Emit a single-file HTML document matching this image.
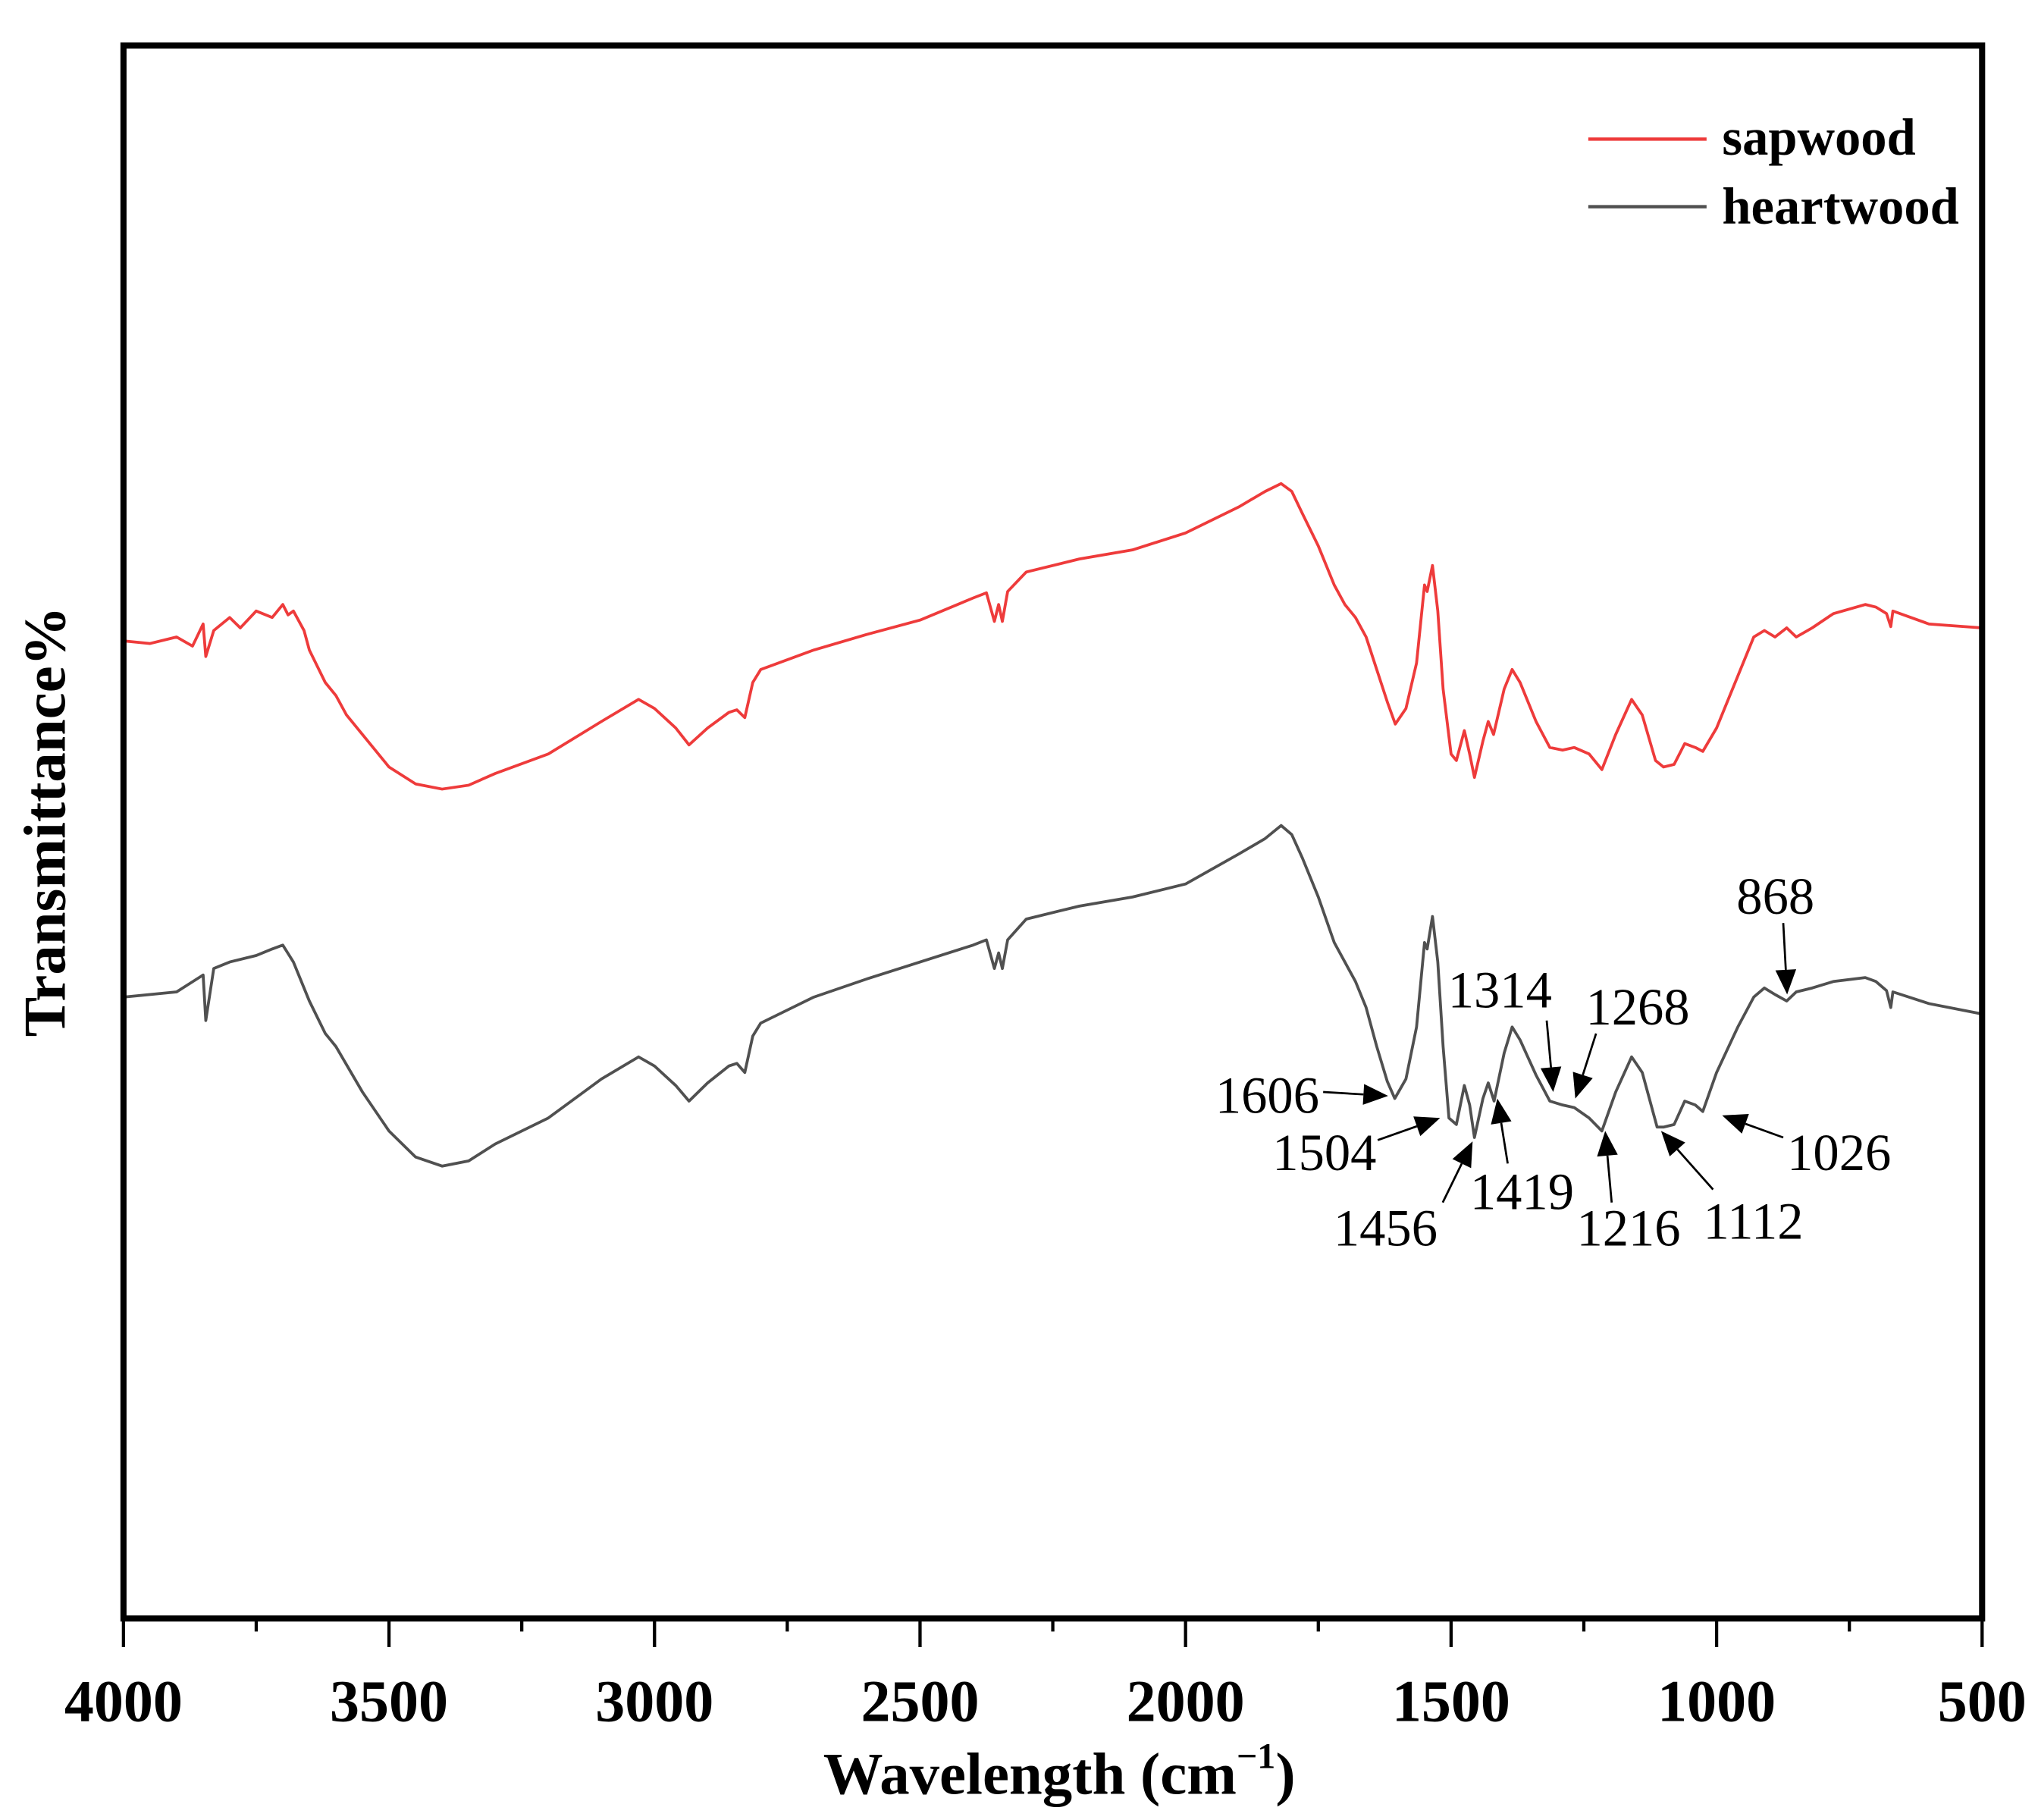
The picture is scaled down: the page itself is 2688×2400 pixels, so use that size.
<!DOCTYPE html>
<html><head><meta charset="utf-8"><style>
html,body{margin:0;padding:0;background:#fff}
svg{display:block}
text{font-family:"Liberation Serif",serif}
</style></head><body>
<svg id="chart" width="2688" height="2400" viewBox="0 0 1568 1400" xmlns="http://www.w3.org/2000/svg">
<g id="plot"></g>
<g id="axes"></g>
<g id="legend">
  <line x1="1222" y1="107" x2="1313" y2="107" stroke="#ee3b3b" stroke-width="2.5"/>
  <text x="1325" y="119" font-size="40" font-weight="bold">sapwood</text>
  <line x1="1222" y1="159" x2="1313" y2="159" stroke="#505050" stroke-width="2.5"/>
  <text x="1325" y="172" font-size="40" font-weight="bold">heartwood</text>
</g>
<text x="815" y="1380" font-size="46" font-weight="bold" text-anchor="middle">Wavelength (cm<tspan font-size="28" dy="-20">−1</tspan><tspan dy="20">)</tspan></text>
<text x="0" y="0" font-size="46" font-weight="bold" text-anchor="middle" transform="translate(50,632) rotate(-90)">Transmittance%</text>
<g id="annot"></g>
</svg>
<script>
const wnTicks=[4000,3500,3000,2500,2000,1500,1000,500];
const sapX=[4000,3950,3900,3870,3850,3845,3830,3800,3780,3750,3720,3700,3690,3680,3660,3650,3620,3600,3580,3550,3500,3450,3400,3350,3300,3200,3100,3030,3000,2960,2935,2900,2860,2845,2830,2815,2800,2700,2600,2500,2400,2375,2360,2352,2345,2335,2300,2200,2100,2000,1900,1850,1820,1800,1780,1750,1720,1700,1680,1660,1640,1620,1605,1585,1565,1550,1545,1535,1525,1515,1500,1490,1475,1465,1456,1440,1430,1420,1400,1385,1370,1340,1314,1290,1268,1240,1216,1190,1160,1140,1115,1100,1080,1060,1040,1026,1000,960,930,910,890,868,850,820,780,720,700,680,672,668,600,500];
const sapY=[752,750,755,748,765,740,760,770,762,775,770,780,772,775,760,745,720,710,695,680,655,642,638,641,650,665,690,707,700,685,672,685,697,699,693,720,730,745,757,768,785,789,767,780,767,790,805,815,822,835,855,867,873,867,850,825,795,780,770,755,730,705,688,700,735,795,790,810,775,715,665,660,683,665,647,675,690,680,715,730,720,690,670,668,670,665,653,680,707,695,660,655,657,673,670,667,685,725,755,760,755,762,755,762,773,780,778,773,763,775,765,762];
const heartX=[4000,3900,3850,3845,3830,3800,3750,3720,3700,3680,3650,3620,3600,3550,3500,3450,3400,3350,3300,3200,3100,3030,3000,2960,2935,2900,2860,2845,2830,2815,2800,2700,2600,2500,2400,2375,2360,2352,2345,2335,2300,2200,2100,2000,1900,1850,1820,1800,1780,1750,1720,1700,1680,1660,1640,1620,1606,1585,1565,1550,1545,1535,1525,1515,1504,1490,1475,1465,1456,1440,1430,1419,1400,1385,1370,1340,1314,1290,1268,1240,1216,1190,1160,1140,1112,1100,1080,1060,1040,1026,1000,960,930,910,890,868,850,820,780,720,700,680,672,668,600,500];
const heartY=[478,482,495,460,500,505,510,515,518,505,475,450,440,405,375,355,348,352,365,385,415,432,425,410,398,412,425,427,420,448,458,478,492,505,518,522,500,512,500,522,538,548,555,565,588,600,610,603,585,555,520,505,490,470,440,413,400,415,455,520,515,540,505,440,385,380,410,395,370,400,412,398,435,455,445,418,398,395,393,385,375,405,432,420,378,378,380,398,395,390,420,455,478,485,480,475,482,485,490,493,490,483,470,482,473,465];
const NS="http://www.w3.org/2000/svg";
const L=95,R=1525,T=35,B=1245;
const xs=w=>L+(4000-w)/3500*(R-L);
const ys=v=>B-v;
function mk(tag,attrs,parent){const e=document.createElementNS(NS,tag);for(const k in attrs)e.setAttribute(k,attrs[k]);parent.appendChild(e);return e;}
const plot=document.getElementById('plot');
function series(X,Y,color,name){
  const d=X.map((w,i)=>(i?'L':'M')+xs(w).toFixed(2)+' '+ys(Y[i]).toFixed(2)).join(' ');
  const p=mk('path',{d:d,fill:'none',stroke:color,'stroke-width':2.2,'stroke-linejoin':'round'},plot);
  
  
}
series(sapX,sapY,'#ee3b3b','sapwood-line');
series(heartX,heartY,'#505050','heartwood-line');
const axes=document.getElementById('axes');
const fr=mk('rect',{x:L,y:T,width:R-L,height:B-T,fill:'none',stroke:'#000','stroke-width':4.7},axes);


for(let w=4000;w>=500;w-=250){
  const major=w%500===0;
  const t=mk('line',{x1:xs(w),x2:xs(w),y1:B,y2:B+(major?22:10),stroke:'#000','stroke-width':2.5},axes);
  
  
}
wnTicks.forEach(w=>{
  const t=mk('text',{x:xs(w),y:1324,'font-size':45.5,'font-weight':'bold','text-anchor':'middle'},axes);
  t.textContent=w;
  
  
});
const ann=document.getElementById('annot');
const notes=[["1606",975,856,1018,840,1068,843],["1504",1019,900,1060,877,1108,860],["1456",1066,958,1110,925,1133,878],["1419",1171,930,1160,895,1152,845],["1314",1154,775,1190,785,1195,840],["1268",1260,788,1228,795,1212,845],["1216",1253,958,1240,925,1235,870],["1112",1349,953,1318,915,1278,870],["1026",1415,900,1372,875,1325,858],["868",1366,703,1372,710,1375,765]];
notes.forEach(n=>{
  const t=mk('text',{x:n[1],y:n[2],'font-size':40,'text-anchor':'middle'},ann);
  t.textContent=n[0];
  
  
  const x1=n[3],y1=n[4],x2=n[5],y2=n[6];
  const dx=x2-x1,dy=y2-y1,len=Math.hypot(dx,dy),ux=dx/len,uy=dy/len;
  const hl=19,hw=8,bx=x2-ux*hl,by=y2-uy*hl;
  const ln=mk('line',{x1:x1,y1:y1,x2:bx,y2:by,stroke:'#000','stroke-width':1.6},ann);
  
  
  const hd=mk('polygon',{points:`${x2},${y2} ${bx-uy*hw},${by+ux*hw} ${bx+uy*hw},${by-ux*hw}`,fill:'#000'},ann);
  
  
});
</script>
</body></html>
